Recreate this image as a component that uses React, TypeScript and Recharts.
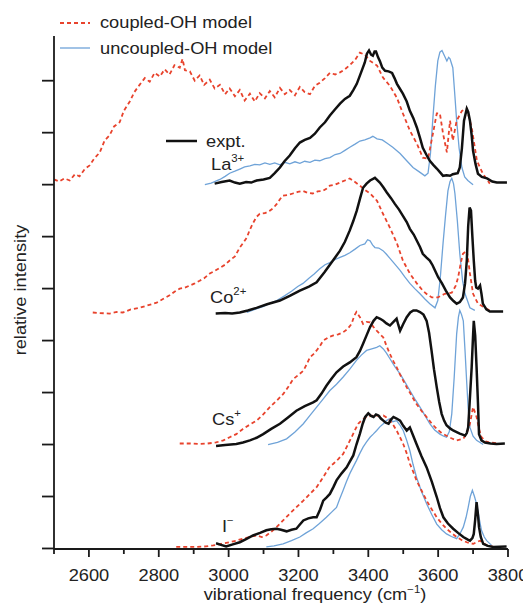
import React from 'react';
import { LineChart, Line, XAxis, YAxis } from 'recharts';

const FONT = '"Liberation Sans", Arial, Helvetica, sans-serif';
const RED = '#e8432d';
const BLUE = '#6fa3d8';
const BLACK = '#111111';
const AXIS = '#1a1a1a';

// x ticks (cm^-1) and y ticks (relative intensity, stacked offsets)
const xTicks = [2500, 2600, 2700, 2800, 2900, 3000, 3100, 3200, 3300, 3400, 3500, 3600, 3700, 3800];
const yTicks = [0, 1, 2, 3, 4, 5, 6, 7, 8, 9];

// ---------- La3+ ----------
const laCoupled = [[2500,7.1],[2515,7.06],[2530,7.12],[2545,7.08],[2560,7.2],[2573,7.16],[2588,7.3],[2602,7.37],[2615,7.5],[2631,7.62],[2645,7.85],[2659,7.95],[2672,8.12],[2688,8.2],[2700,8.42],[2717,8.6],[2730,8.78],[2745,8.92],[2760,9.05],[2774,8.98],[2788,9.15],[2803,9.08],[2817,9.22],[2831,9.12],[2845,9.3],[2860,9.25],[2868,9.42],[2875,9.2],[2889,9.18],[2903,9.0],[2917,9.1],[2930,8.92],[2946,9.02],[2960,8.85],[2975,8.92],[2990,8.74],[3003,8.85],[3018,8.7],[3032,8.82],[3046,8.62],[3061,8.75],[3075,8.6],[3089,8.76],[3104,8.66],[3118,8.8],[3132,8.68],[3147,8.86],[3161,8.74],[3175,8.82],[3190,8.72],[3204,8.88],[3218,8.78],[3233,8.74],[3247,8.9],[3261,8.96],[3276,9.05],[3290,9.15],[3305,9.12],[3319,9.16],[3333,9.22],[3347,9.3],[3362,9.4],[3376,9.54],[3390,9.5],[3405,9.38],[3425,9.29],[3442,9.06],[3462,8.9],[3482,8.67],[3499,8.37],[3519,8.04],[3539,7.79],[3556,7.52],[3571,7.5],[3585,7.98],[3596,8.37],[3605,8.37],[3614,7.98],[3625,7.62],[3634,8.23],[3642,7.85],[3653,8.23],[3668,8.42],[3682,8.46],[3696,8.1],[3711,7.46],[3728,7.21],[3748,7.02]];
const laUncoupled = [[2932,7.0],[2950,7.03],[2975,7.1],[2990,7.16],[3003,7.22],[3018,7.26],[3032,7.3],[3046,7.34],[3061,7.36],[3075,7.39],[3089,7.38],[3104,7.42],[3118,7.39],[3132,7.42],[3147,7.38],[3161,7.43],[3175,7.4],[3190,7.44],[3204,7.41],[3218,7.45],[3233,7.43],[3247,7.47],[3261,7.46],[3276,7.5],[3290,7.52],[3305,7.58],[3319,7.6],[3333,7.66],[3347,7.72],[3362,7.78],[3376,7.84],[3390,7.86],[3405,7.9],[3413,7.93],[3425,7.88],[3440,7.86],[3453,7.8],[3470,7.72],[3491,7.6],[3510,7.46],[3528,7.33],[3545,7.25],[3562,7.17],[3571,7.22],[3578,7.6],[3585,8.29],[3592,8.9],[3599,9.38],[3605,9.55],[3611,9.58],[3618,9.48],[3625,9.38],[3630,9.45],[3634,9.42],[3642,9.25],[3648,8.7],[3653,8.23],[3660,7.7],[3668,7.33],[3676,7.15],[3685,7.08],[3700,7.0]];
const laExpt = [[2960,7.02],[2980,7.05],[3003,7.08],[3018,7.04],[3032,7.02],[3050,7.05],[3065,7.04],[3080,7.08],[3100,7.1],[3118,7.13],[3132,7.22],[3147,7.33],[3160,7.45],[3175,7.56],[3190,7.7],[3204,7.81],[3218,7.86],[3233,7.9],[3247,7.98],[3261,8.1],[3276,8.2],[3290,8.33],[3305,8.45],[3319,8.56],[3333,8.65],[3347,8.71],[3357,8.82],[3367,8.94],[3381,9.19],[3390,9.35],[3396,9.52],[3402,9.58],[3408,9.5],[3413,9.48],[3418,9.56],[3422,9.56],[3428,9.45],[3433,9.38],[3440,9.25],[3448,9.19],[3458,9.18],[3468,9.15],[3475,9.05],[3482,8.94],[3490,8.85],[3499,8.75],[3510,8.6],[3519,8.42],[3529,8.28],[3539,8.1],[3548,7.9],[3556,7.71],[3566,7.58],[3576,7.46],[3586,7.38],[3596,7.31],[3605,7.24],[3614,7.17],[3624,7.18],[3634,7.17],[3642,7.2],[3648,7.21],[3656,7.22],[3662,7.33],[3668,7.7],[3674,8.23],[3682,8.46],[3686,8.4],[3691,8.23],[3696,7.95],[3700,7.65],[3707,7.4],[3714,7.21],[3725,7.15],[3740,7.12],[3755,7.06],[3768,7.04],[3797,7.04]];

// ---------- Co2+ ----------
const coCoupled = [[2611,4.54],[2630,4.53],[2659,4.52],[2680,4.55],[2697,4.54],[2720,4.6],[2745,4.63],[2770,4.68],[2794,4.73],[2812,4.8],[2831,4.87],[2845,4.94],[2860,5.0],[2875,5.02],[2889,5.06],[2903,5.1],[2917,5.15],[2930,5.2],[2946,5.29],[2960,5.34],[2975,5.4],[2990,5.46],[3003,5.54],[3018,5.62],[3032,5.79],[3042,5.88],[3052,5.98],[3060,6.12],[3069,6.25],[3080,6.38],[3089,6.44],[3104,6.45],[3118,6.5],[3128,6.55],[3138,6.63],[3147,6.72],[3155,6.79],[3170,6.8],[3184,6.83],[3198,6.86],[3213,6.88],[3227,6.84],[3241,6.83],[3255,6.87],[3270,6.88],[3280,6.92],[3290,6.98],[3305,7.0],[3319,7.04],[3333,7.08],[3347,7.12],[3362,7.05],[3376,6.98],[3390,6.9],[3405,6.83],[3425,6.69],[3442,6.44],[3462,6.17],[3482,5.87],[3499,5.54],[3519,5.29],[3539,5.1],[3556,4.96],[3570,4.88],[3582,4.83],[3599,4.83],[3619,4.9],[3639,4.92],[3650,5.05],[3657,5.21],[3665,5.5],[3671,5.67],[3682,5.73],[3687,5.5],[3691,5.29],[3700,4.9],[3714,4.71],[3734,4.63],[3748,4.58]];
const coUncoupled = [[3052,4.54],[3075,4.6],[3100,4.66],[3120,4.72],[3138,4.77],[3160,4.86],[3180,4.95],[3198,5.04],[3213,5.1],[3230,5.2],[3245,5.28],[3261,5.38],[3276,5.46],[3290,5.5],[3305,5.56],[3319,5.6],[3333,5.64],[3347,5.69],[3362,5.76],[3376,5.83],[3390,5.86],[3398,5.94],[3405,5.92],[3412,5.84],[3419,5.79],[3430,5.78],[3442,5.73],[3452,5.66],[3462,5.58],[3476,5.47],[3491,5.35],[3505,5.22],[3519,5.1],[3533,5.0],[3548,4.9],[3562,4.8],[3576,4.71],[3591,4.63],[3599,4.77],[3606,5.2],[3614,5.87],[3621,6.4],[3628,6.88],[3634,7.06],[3639,7.12],[3644,7.02],[3648,6.83],[3655,6.3],[3662,5.67],[3670,5.15],[3677,4.9],[3691,4.63],[3705,4.58]];
const coExpt = [[2963,4.52],[2990,4.53],[3010,4.52],[3032,4.54],[3055,4.58],[3080,4.63],[3110,4.7],[3147,4.77],[3175,4.86],[3204,4.96],[3230,5.04],[3252,5.12],[3261,5.2],[3275,5.32],[3290,5.46],[3305,5.6],[3319,5.73],[3333,5.9],[3347,6.12],[3357,6.3],[3367,6.5],[3377,6.75],[3385,6.94],[3395,7.02],[3405,7.08],[3419,7.13],[3433,7.04],[3443,6.95],[3453,6.85],[3465,6.74],[3476,6.63],[3488,6.52],[3499,6.4],[3510,6.28],[3519,6.15],[3530,6.04],[3539,5.92],[3548,5.8],[3556,5.67],[3566,5.6],[3576,5.54],[3584,5.45],[3591,5.35],[3600,5.22],[3611,5.1],[3622,4.96],[3634,4.83],[3644,4.76],[3653,4.71],[3662,4.74],[3671,4.83],[3677,5.1],[3682,5.54],[3686,6.2],[3690,6.56],[3694,6.5],[3698,6.0],[3702,5.54],[3706,5.15],[3709,5.02],[3714,5.0],[3720,5.06],[3724,4.9],[3728,4.71],[3738,4.6],[3748,4.56],[3786,4.56]];

// ---------- Cs+ ----------
const csCoupled = [[2860,2.02],[2890,2.02],[2917,2.01],[2940,2.02],[2964,2.04],[2985,2.08],[3003,2.14],[3022,2.2],[3041,2.3],[3060,2.38],[3080,2.46],[3099,2.58],[3118,2.72],[3137,2.84],[3156,2.97],[3170,3.1],[3185,3.26],[3200,3.34],[3214,3.42],[3224,3.55],[3233,3.68],[3243,3.74],[3252,3.81],[3262,3.9],[3271,4.0],[3285,4.06],[3300,4.1],[3314,4.12],[3328,4.16],[3340,4.22],[3352,4.32],[3360,4.48],[3366,4.55],[3371,4.5],[3376,4.45],[3385,4.32],[3395,4.36],[3405,4.35],[3415,4.26],[3424,4.19],[3434,4.12],[3443,4.06],[3452,3.9],[3462,3.74],[3472,3.6],[3481,3.49],[3490,3.36],[3500,3.23],[3510,3.1],[3519,3.0],[3529,2.88],[3538,2.78],[3552,2.65],[3567,2.53],[3582,2.4],[3596,2.3],[3610,2.22],[3624,2.17],[3638,2.12],[3653,2.08],[3672,2.11],[3682,2.22],[3691,2.4],[3700,2.72],[3710,2.53],[3717,2.3],[3724,2.14],[3736,2.06],[3748,2.04],[3772,2.02]];
const csUncoupled = [[3113,2.0],[3140,2.04],[3166,2.11],[3190,2.24],[3214,2.4],[3233,2.56],[3252,2.72],[3271,2.88],[3290,3.04],[3309,3.16],[3328,3.3],[3347,3.45],[3366,3.62],[3380,3.72],[3395,3.81],[3410,3.84],[3424,3.87],[3433,3.9],[3443,3.84],[3452,3.76],[3462,3.65],[3476,3.5],[3491,3.36],[3505,3.2],[3519,3.04],[3533,2.88],[3548,2.72],[3562,2.56],[3576,2.4],[3590,2.28],[3605,2.2],[3616,2.16],[3624,2.14],[3632,2.25],[3639,2.59],[3646,3.3],[3653,4.13],[3658,4.45],[3662,4.58],[3667,4.5],[3672,4.38],[3677,3.8],[3682,3.17],[3686,2.7],[3691,2.33],[3700,2.16],[3710,2.08],[3729,2.0]];
const csExpt = [[2964,1.97],[2990,1.99],[3022,2.01],[3041,2.04],[3061,2.08],[3080,2.13],[3099,2.2],[3122,2.3],[3147,2.4],[3170,2.52],[3194,2.65],[3218,2.74],[3242,2.81],[3252,2.85],[3266,2.98],[3280,3.13],[3295,3.27],[3309,3.39],[3328,3.5],[3347,3.58],[3366,3.68],[3376,3.8],[3385,3.94],[3395,4.1],[3405,4.26],[3415,4.38],[3424,4.45],[3434,4.42],[3443,4.38],[3452,4.33],[3462,4.29],[3472,4.36],[3481,4.42],[3486,4.3],[3491,4.19],[3500,4.32],[3510,4.45],[3520,4.54],[3529,4.58],[3538,4.58],[3548,4.55],[3558,4.5],[3567,4.38],[3574,4.15],[3581,3.81],[3588,3.45],[3596,3.1],[3603,2.82],[3610,2.59],[3617,2.46],[3624,2.37],[3634,2.31],[3643,2.27],[3653,2.24],[3662,2.21],[3670,2.19],[3677,2.17],[3682,2.22],[3686,2.33],[3691,2.9],[3696,3.49],[3700,4.1],[3702,4.38],[3706,4.1],[3710,3.49],[3714,2.8],[3717,2.2],[3724,2.08],[3734,2.04],[3750,2.02],[3767,2.01],[3791,2.02]];

// ---------- I- ----------
const iCoupled = [[2850,0.03],[2880,0.03],[2908,0.03],[2935,0.04],[2956,0.06],[2980,0.09],[3003,0.12],[3022,0.15],[3041,0.19],[3060,0.22],[3080,0.25],[3095,0.22],[3108,0.25],[3122,0.32],[3137,0.41],[3156,0.54],[3175,0.67],[3195,0.8],[3214,0.92],[3233,1.05],[3252,1.18],[3266,1.32],[3280,1.47],[3290,1.58],[3300,1.63],[3314,1.72],[3328,1.82],[3340,1.98],[3352,2.14],[3362,2.28],[3371,2.4],[3383,2.48],[3395,2.53],[3407,2.55],[3419,2.56],[3431,2.55],[3443,2.56],[3452,2.52],[3462,2.46],[3472,2.37],[3481,2.27],[3490,2.15],[3500,2.01],[3510,1.83],[3519,1.63],[3529,1.47],[3538,1.31],[3552,1.12],[3567,0.92],[3582,0.75],[3596,0.6],[3610,0.48],[3624,0.38],[3638,0.3],[3653,0.22],[3668,0.16],[3682,0.12],[3692,0.1],[3701,0.09],[3710,0.12],[3720,0.15],[3730,0.1],[3739,0.06],[3758,0.03]];
const iUncoupled = [[3108,0.03],[3130,0.05],[3156,0.09],[3180,0.15],[3204,0.22],[3222,0.3],[3242,0.38],[3260,0.48],[3280,0.6],[3295,0.7],[3309,0.79],[3318,0.95],[3328,1.12],[3337,1.28],[3347,1.44],[3356,1.56],[3366,1.69],[3375,1.82],[3385,1.95],[3395,2.05],[3405,2.14],[3414,2.2],[3424,2.27],[3433,2.34],[3443,2.4],[3452,2.46],[3462,2.5],[3470,2.44],[3481,2.46],[3490,2.38],[3500,2.27],[3510,2.08],[3519,1.88],[3528,1.62],[3538,1.37],[3552,1.1],[3567,0.86],[3582,0.65],[3596,0.47],[3610,0.36],[3624,0.28],[3638,0.23],[3653,0.19],[3662,0.28],[3672,0.41],[3680,0.6],[3686,0.79],[3692,1.0],[3698,1.12],[3704,1.0],[3710,0.86],[3717,0.6],[3724,0.35],[3732,0.22],[3739,0.15],[3753,0.06]];
const iExpt = [[2964,0.1],[2978,0.07],[2993,0.04],[3012,0.08],[3032,0.12],[3050,0.18],[3070,0.25],[3090,0.3],[3108,0.35],[3122,0.37],[3137,0.38],[3150,0.36],[3166,0.33],[3180,0.36],[3194,0.38],[3204,0.46],[3214,0.54],[3228,0.58],[3242,0.6],[3252,0.6],[3262,0.75],[3271,0.92],[3280,0.98],[3290,1.05],[3300,1.18],[3309,1.31],[3323,1.44],[3338,1.56],[3347,1.67],[3357,1.79],[3366,2.0],[3376,2.21],[3384,2.4],[3391,2.53],[3400,2.6],[3408,2.55],[3415,2.53],[3422,2.58],[3429,2.56],[3436,2.5],[3443,2.46],[3450,2.42],[3458,2.4],[3465,2.48],[3472,2.53],[3481,2.5],[3491,2.46],[3500,2.36],[3510,2.27],[3519,2.33],[3528,2.18],[3538,2.01],[3552,1.78],[3567,1.56],[3582,1.28],[3596,0.99],[3605,0.78],[3615,0.6],[3628,0.48],[3643,0.38],[3657,0.3],[3672,0.22],[3685,0.17],[3691,0.15],[3698,0.2],[3702,0.28],[3706,0.55],[3710,0.89],[3714,0.65],[3717,0.41],[3722,0.22],[3729,0.09],[3742,0.05],[3758,0.03],[3796,0.04]];

const rows = (pts: number[][]) => pts.map(([x, y]) => ({ x, y }));

const uncoupledSeries = [laUncoupled, coUncoupled, csUncoupled, iUncoupled];
const coupledSeries = [laCoupled, coCoupled, csCoupled, iCoupled];
const exptSeries = [laExpt, coExpt, csExpt, iExpt];

const SX = 1.14;

const XTick = (props: any) => {
  const { x, y, payload } = props;
  const v = payload.value;
  const major = v % 200 === 0 && v !== 2500;
  return (
    <g>
      <line x1={x} x2={x} y1={y} y2={y + (major ? 8 : 5)} stroke={AXIS} strokeWidth={1.8} />
      {major && (
        <text
          transform={`translate(${x},${y + 32}) scale(${SX},1)`}
          textAnchor="middle"
          fontFamily={FONT}
          fontSize={16}
          fill="#222"
        >
          {v}
        </text>
      )}
    </g>
  );
};

const YTick = (props: any) => {
  const { x, y } = props;
  return <line x1={x - 12} x2={x} y1={y} y2={y} stroke={AXIS} strokeWidth={1.8} />;
};

const txt = (x: number, y: number, s: React.ReactNode, anchor: string = 'start') => (
  <text
    transform={`translate(${x},${y}) scale(${SX},1)`}
    textAnchor={anchor}
    fontFamily={FONT}
    fontSize={16}
    fill="#222"
  >
    {s}
  </text>
);

const Overlay = () => (
  <svg width={531} height={606} style={{ position: 'absolute', left: 0, top: 0, pointerEvents: 'none' }}>
    <line x1={60} x2={90} y1={23} y2={23} stroke={RED} strokeWidth={1.8} strokeDasharray="4 3" />
    {txt(100, 28, 'coupled-OH model')}
    <line x1={60} x2={90} y1={48} y2={48} stroke={BLUE} strokeWidth={1.3} />
    {txt(100, 54, 'uncoupled-OH model')}
    <line x1={166} x2={197} y1={141} y2={141} stroke={BLACK} strokeWidth={2.5} />
    {txt(206, 147, 'expt.')}
    {txt(211, 170, <>La<tspan fontSize={10} dy={-8}>3+</tspan></>)}
    {txt(210, 303, <>Co<tspan fontSize={10} dy={-8}>2+</tspan></>)}
    {txt(212, 425, <>Cs<tspan fontSize={10} dy={-8}>+</tspan></>)}
    {txt(222, 532, <>I<tspan fontSize={10} dy={-8}>−</tspan></>)}
    <text
      transform={`translate(26,290) rotate(-90) scale(${SX},1)`}
      textAnchor="middle"
      fontFamily={FONT}
      fontSize={16}
      fill="#222"
    >
      relative intensity
    </text>
    {txt(315, 600, <>vibrational frequency (cm<tspan fontSize={10} dy={-7}>−1</tspan><tspan dy={7}>)</tspan></>, 'middle')}
  </svg>
);

export default function App() {
  return (
    <div style={{ position: 'relative', left: -8, top: -8, width: 531, height: 606, background: '#fff' }}>
      <LineChart width={531} height={606} margin={{ top: 36, right: 23, bottom: 0, left: 0 }}>
        <XAxis
          type="number"
          dataKey="x"
          domain={[2500, 3800]}
          ticks={xTicks}
          interval={0}
          allowDataOverflow
          height={57}
          tickLine={false}
          tickSize={0}
          tickMargin={0}
          axisLine={{ stroke: AXIS, strokeWidth: 1.8 }}
          tick={<XTick />}
        />
        <YAxis
          type="number"
          dataKey="y"
          domain={[-0.01, 9.86]}
          ticks={yTicks}
          interval={0}
          allowDataOverflow
          width={54}
          tickLine={false}
          tickSize={0}
          tickMargin={0}
          axisLine={{ stroke: AXIS, strokeWidth: 1.8 }}
          tick={<YTick />}
        />
        {uncoupledSeries.map((s, i) => (
          <Line key={`u${i}`} data={rows(s)} dataKey="y" type="linear" stroke={BLUE} strokeWidth={1.3} dot={false} isAnimationActive={false} />
        ))}
        {coupledSeries.map((s, i) => (
          <Line key={`c${i}`} data={rows(s)} dataKey="y" type="linear" stroke={RED} strokeWidth={1.8} strokeDasharray="4 3" dot={false} isAnimationActive={false} />
        ))}
        {exptSeries.map((s, i) => (
          <Line key={`e${i}`} data={rows(s)} dataKey="y" type="linear" stroke={BLACK} strokeWidth={2.5} dot={false} isAnimationActive={false} />
        ))}
      </LineChart>
      <Overlay />
    </div>
  );
}
